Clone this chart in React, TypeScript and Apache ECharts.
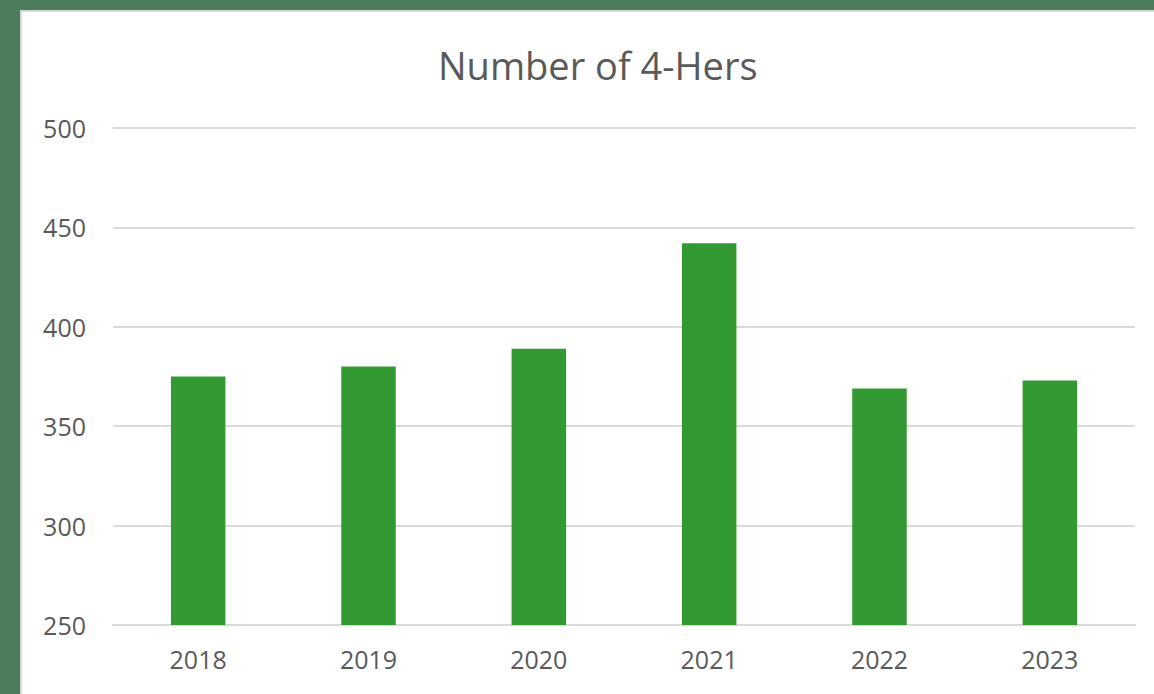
import React, { useEffect, useRef } from "react";
import * as echarts from "echarts";

const years = ["2018", "2019", "2020", "2021", "2022", "2023"];
const members = [375, 380, 389, 442, 369, 373];
const titleText = "Number of 4-Hers";

export default function App() {
  const ref = useRef<HTMLDivElement>(null);
  useEffect(() => {
    const chart = echarts.init(ref.current!, null, { renderer: "svg" });
    chart.setOption({
      animation: false,
      backgroundColor: "#4b7d5a",
      graphic: [
        {
          type: "rect",
          shape: { x: 21, y: 11, width: 1140, height: 690 },
          style: { fill: "#ffffff", stroke: "#d6d6d6", lineWidth: 2 },
          z: -10,
        },
      ],
      title: {
        text: titleText,
        left: 433,
        top: 41,
        textStyle: {
          fontFamily: "Open Sans",
          fontSize: 38,
          fontWeight: "normal",
          color: "#595959",
        },
      },
      grid: { left: 113, right: 19, top: 128, bottom: 69 },
      xAxis: {
        type: "category",
        data: years,
        axisTick: { show: false },
        axisLine: { lineStyle: { color: "#d9d9d9", width: 2 } },
        axisLabel: {
          color: "#595959",
          fontFamily: "Open Sans",
          fontSize: 25,
          margin: 21,
        },
      },
      yAxis: {
        type: "value",
        min: 250,
        max: 500,
        interval: 50,
        axisLine: { show: false },
        axisTick: { show: false },
        splitLine: { lineStyle: { color: "#d9d9d9", width: 2 } },
        axisLabel: {
          color: "#595959",
          fontFamily: "Open Sans",
          fontSize: 25,
          margin: 27,
        },
      },
      series: [
        {
          type: "bar",
          data: members,
          barWidth: "32%",
          itemStyle: { color: "#339933" },
        },
      ],
    });
    return () => chart.dispose();
  }, []);
  return (
    <div
      ref={ref}
      style={{ position: "absolute", left: 0, top: 0, width: 1154, height: 694 }}
    />
  );
}
